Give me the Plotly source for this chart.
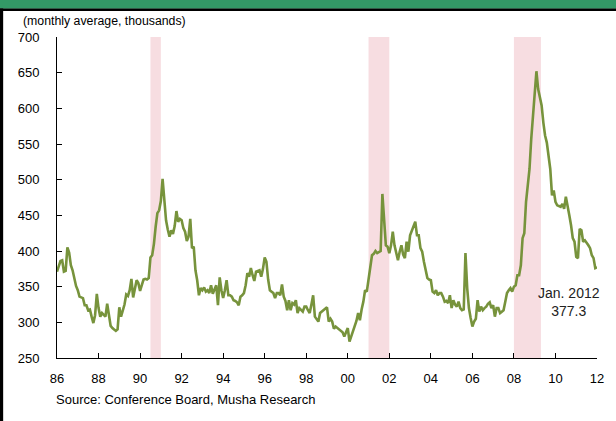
import plotly.graph_objects as go

start_year = 1986
claims = [
    371, 380, 386, 387, 371, 372, 405, 398, 380, 373, 360, 351,  # 1986
    345, 336, 335, 334, 324, 324, 317, 318, 308, 299, 310, 340,  # 1987
    320, 308, 313, 311, 308, 326, 310, 295, 292, 290, 288, 290,  # 1988
    321, 308, 315, 325, 339, 337, 345, 361, 335, 349, 359, 355,  # 1989
    344, 352, 360, 361, 360, 362, 391, 394, 410, 434, 453, 457,  # 1990
    470, 501, 465, 443, 430, 420, 429, 424, 435, 456, 441, 445,  # 1991
    443, 432, 427, 414, 420, 445, 404, 406, 373, 359, 338, 348,  # 1992
    345, 349, 343, 345, 341, 352, 340, 345, 352, 324, 363, 345,  # 1993
    334, 345, 359, 338, 338, 336, 331, 330, 328, 324, 336, 338,  # 1994
    341, 352, 369, 364, 376, 366, 358, 371, 372, 373, 364, 375,  # 1995
    391, 385, 360, 345, 343, 341, 334, 341, 341, 338, 353, 336,  # 1996
    330, 317, 331, 317, 327, 325, 331, 313, 320, 318, 315, 322,  # 1997
    322, 317, 313, 325, 338, 308, 305, 301, 313, 315, 317, 318,  # 1998
    321, 301, 305, 301, 291, 294, 292, 290, 288, 286, 280, 285,  # 1999
    292, 273, 280, 287, 294, 302, 313, 303, 318, 329, 345, 343,  # 2000
    360, 378, 394, 396, 400, 397, 399, 400, 480, 445, 408, 406,  # 2001
    397, 408, 427, 408, 399, 387, 399, 408, 395, 390, 413, 399,  # 2002
    422, 429, 435, 441, 422, 422, 404, 399, 385, 371, 362, 360,  # 2003
    359, 343, 341, 345, 338, 341, 341, 336, 329, 330, 327, 338,  # 2004
    320, 331, 325, 322, 329, 320, 317, 318, 397, 348, 320, 306,  # 2005
    294, 301, 305, 331, 315, 322, 317, 320, 322, 326, 328, 320,  # 2006
    324, 308, 320, 320, 313, 315, 317, 329, 341, 345, 348, 343,  # 2007
    350, 352, 366, 366, 380, 418, 425, 469, 495, 515, 557, 590,  # 2008
    627, 652, 627, 615, 604, 580, 562, 552, 530, 515, 478, 485,  # 2009
    469, 464, 463, 462, 466, 459, 476, 460, 450, 436, 418, 413,  # 2010
    392, 390, 431, 429, 413, 415, 412, 408, 404, 394, 390, 376,  # 2011
    377.3,                                                       # 2012 Jan
]
recessions = [(1990.5, 1991.0), (2001.0, 2002.0), (2008.0, 2009.3)]
tick_years = list(range(1986, 2013, 2))
tick_labels = [f"{y % 100:02d}" for y in tick_years]
y_ticks = [250, 300, 350, 400, 450, 500, 550, 600, 650, 700]

unit_text = "(monthly average, thousands)"
source_text = "Source: Conference Board, Musha Research"
last_label = "Jan. 2012<br>377.3"

x_vals = [start_year + i / 12 for i in range(len(claims))]

FONT = "Liberation Sans, Arial, sans-serif"
LINE = "#77933c"

fig = go.Figure()
fig.add_trace(go.Scatter(x=x_vals, y=claims, mode="lines",
                         line=dict(color=LINE, width=2.6), hoverinfo="skip",
                         showlegend=False))

shapes = []
for a, b in recessions:
    shapes.append(dict(type="rect", xref="x", yref="paper", x0=a, x1=b, y0=0, y1=1,
                       fillcolor="#f7dde1", line=dict(width=0), layer="below"))
# header band and frame
shapes.append(dict(type="rect", xref="paper", yref="paper", x0=-0.2, x1=1.1,
                   y0=1.088, y1=1.2, fillcolor="#339966", line=dict(width=0)))
shapes.append(dict(type="rect", xref="paper", yref="paper", x0=-0.2, x1=1.1,
                   y0=1.081, y1=1.089, fillcolor="#000000", line=dict(width=0)))
shapes.append(dict(type="rect", xref="paper", yref="paper", x0=-0.2, x1=-0.0997,
                   y0=-0.3, y1=1.089, fillcolor="#000000", line=dict(width=0)))

fig.update_layout(
    width=616, height=421,
    margin=dict(l=57, r=17, t=37, b=63),
    paper_bgcolor="white", plot_bgcolor="white",
    font=dict(family=FONT, size=13, color="#000000"),
    shapes=shapes,
    xaxis=dict(range=[1986, 2012], tickmode="array", tickvals=tick_years,
               ticktext=tick_labels, ticks="inside", ticklen=5, tickcolor="#000",
               showline=True, linecolor="#000", linewidth=1, showgrid=False,
               zeroline=False, tickfont=dict(size=13), ticklabelstandoff=8),
    yaxis=dict(range=[250, 700], tickmode="array", tickvals=y_ticks,
               ticks="inside", ticklen=5, tickcolor="#000",
               showline=True, linecolor="#000", linewidth=1, showgrid=False,
               zeroline=False, tickfont=dict(size=13), ticklabelstandoff=14),
    annotations=[
        dict(text=unit_text, xref="paper", yref="paper", x=-0.066, y=1.049,
             xanchor="left", yanchor="middle", showarrow=False,
             font=dict(size=12.3, color="#000")),
        dict(text=source_text, xref="paper", yref="paper", x=-0.006, y=-0.13,
             xanchor="left", yanchor="middle", showarrow=False,
             font=dict(size=13, color="#000")),
        dict(text=last_label, xref="x", yref="y", x=2010.65, y=328,
             xanchor="center", yanchor="middle", showarrow=False,
             font=dict(size=14, color="#222")),
    ],
)

fig.write_html("out.html")
